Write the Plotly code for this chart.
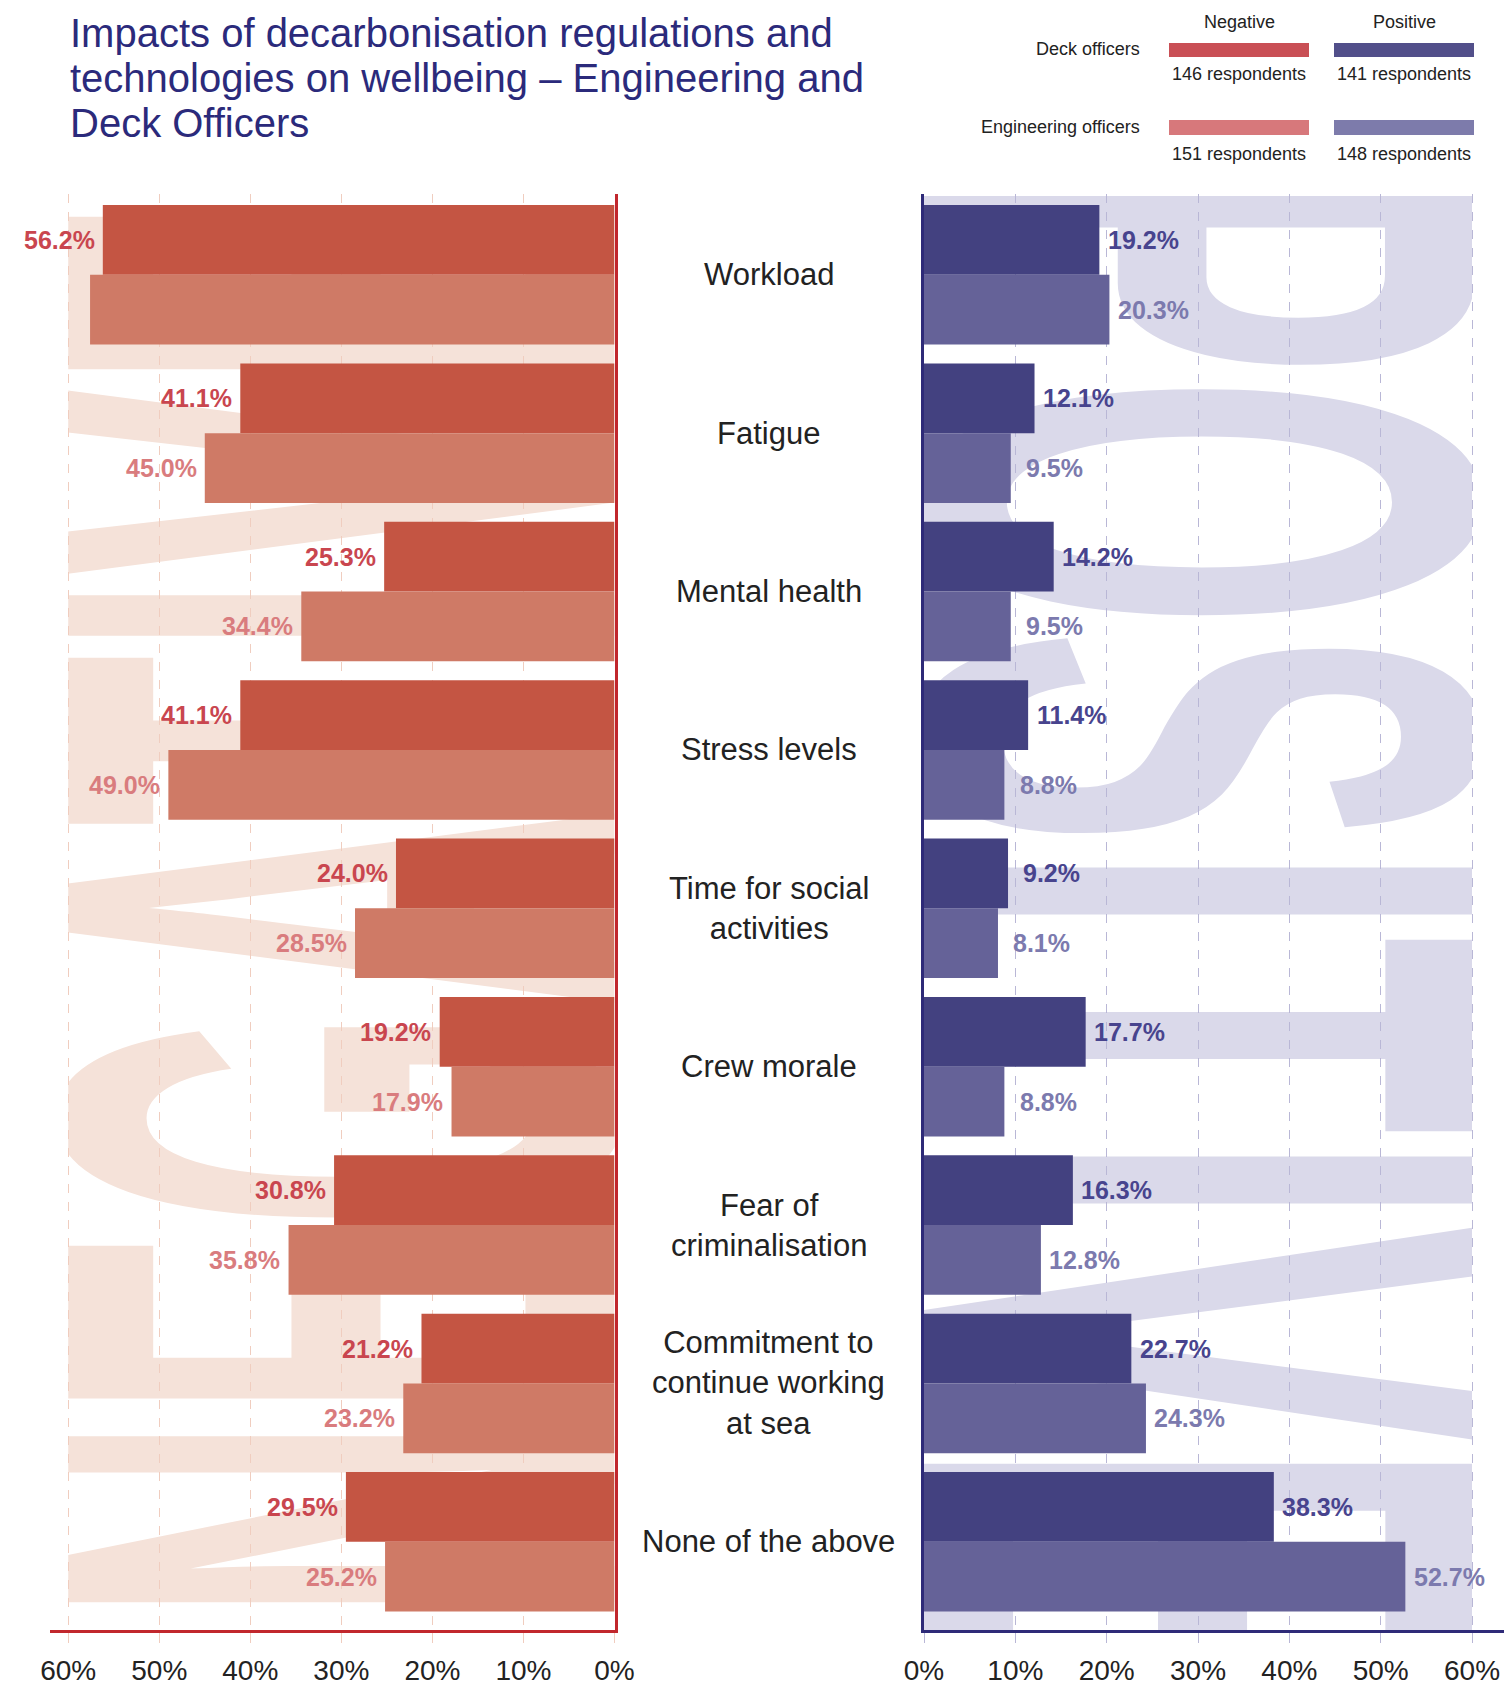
import base64
import plotly.graph_objects as go

# ---------------- data ----------------
categories = ["Workload", "Fatigue", "Mental health", "Stress levels",
              "Time for social activities", "Crew morale", "Fear of criminalisation",
              "Commitment to continue working at sea", "None of the above"]
category_labels = ["Workload", "Fatigue", "Mental health", "Stress levels",
                   "Time for social<br>activities", "Crew morale", "Fear of<br>criminalisation",
                   "Commitment to<br>continue working<br>at sea", "None of the above"]
neg_deck = [56.2, 41.1, 25.3, 41.1, 24.0, 19.2, 30.8, 21.2, 29.5]
neg_eng = [57.6, 45.0, 34.4, 49.0, 28.5, 17.9, 35.8, 23.2, 25.2]
pos_deck = [19.2, 12.1, 14.2, 11.4, 9.2, 17.7, 16.3, 22.7, 38.3]
pos_eng = [20.3, 9.5, 9.5, 8.8, 8.1, 8.8, 12.8, 24.3, 52.7]
tick_vals = [0, 10, 20, 30, 40, 50, 60]
tick_text = ["0%", "10%", "20%", "30%", "40%", "50%", "60%"]
respondents = {"neg_deck": 146, "pos_deck": 141, "neg_eng": 151, "pos_eng": 148}
title_lines = ["Impacts of decarbonisation regulations and",
               "technologies on wellbeing \u2013 Engineering and",
               "Deck Officers"]

# ---------------- styling / geometry ----------------
W, H = 1504, 1685
FONT = "Liberation Sans, Arial, Helvetica, sans-serif"
LEFT_X0, LEFT_X1 = 50.0, 614.5
RIGHT_X0, RIGHT_X1 = 924.0, 1504.0
PLOT_TOP, PLOT_BOTTOM = 194.0, 1630.0
LEFT_RANGE = [62.0, 0.0]
RIGHT_RANGE = [0.0, 63.5]
Y_RANGE = [8.557, -0.510]
BAR_W = 0.4405
LABEL_OFF = 4.8

C_NEG_DECK, C_NEG_ENG = "#c45543", "#cf7a66"
C_POS_DECK, C_POS_ENG = "#434180", "#656298"
C_NEG_DECK_T, C_NEG_ENG_T = "#c9464f", "#d97c7e"
C_POS_DECK_T, C_POS_ENG_T = "#48448e", "#7c7aae"
C_RED_AXIS, C_NAVY_AXIS = "#c1272d", "#2e2a78"
C_GRID_L, C_GRID_R = "#f0cdbf", "#b9b7d6"
C_WM_L, C_WM_R = "#f5e2d9", "#dad9ea"
C_TEXT = "#222222"
C_TITLE = "#2b2a7b"


def px_x(p):
    return p / W


def px_y(p):
    return 1 - p / H


def left_x_to_px(v):
    return LEFT_X0 + (LEFT_RANGE[0] - v) / (LEFT_RANGE[0] - LEFT_RANGE[1]) * (LEFT_X1 - LEFT_X0)


def right_x_to_px(v):
    return RIGHT_X0 + (v - RIGHT_RANGE[0]) / (RIGHT_RANGE[1] - RIGHT_RANGE[0]) * (RIGHT_X1 - RIGHT_X0)


ypos = list(range(len(categories)))

fig = go.Figure()
fig.add_trace(go.Bar(x=neg_deck, y=ypos, orientation="h", width=BAR_W, offset=-BAR_W,
                     marker=dict(color=C_NEG_DECK, line=dict(width=0)), xaxis="x", yaxis="y",
                     name="Negative - Deck officers", showlegend=False))
fig.add_trace(go.Bar(x=neg_eng, y=ypos, orientation="h", width=BAR_W, offset=0,
                     marker=dict(color=C_NEG_ENG, line=dict(width=0)), xaxis="x", yaxis="y",
                     name="Negative - Engineering officers", showlegend=False))
fig.add_trace(go.Bar(x=pos_deck, y=ypos, orientation="h", width=BAR_W, offset=-BAR_W,
                     marker=dict(color=C_POS_DECK, line=dict(width=0)), xaxis="x2", yaxis="y2",
                     name="Positive - Deck officers", showlegend=False))
fig.add_trace(go.Bar(x=pos_eng, y=ypos, orientation="h", width=BAR_W, offset=0,
                     marker=dict(color=C_POS_ENG, line=dict(width=0)), xaxis="x2", yaxis="y2",
                     name="Positive - Engineering officers", showlegend=False))

annotations = []
VAL_SIZE = 25
# value labels
for i in ypos:
    annotations.append(dict(x=neg_deck[i] + LABEL_OFF, y=i - BAR_W / 2, xref="x", yref="y",
                            text=f"{neg_deck[i]:.1f}%", showarrow=False, xanchor="center", yanchor="middle",
                            font=dict(family=FONT, size=VAL_SIZE, color=C_NEG_DECK_T, weight="bold")))
    annotations.append(dict(x=neg_eng[i] + LABEL_OFF, y=i + BAR_W / 2, xref="x", yref="y",
                            text=f"{neg_eng[i]:.1f}%", showarrow=False, xanchor="center", yanchor="middle",
                            font=dict(family=FONT, size=VAL_SIZE, color=C_NEG_ENG_T, weight="bold")))
    annotations.append(dict(x=pos_deck[i] + LABEL_OFF, y=i - BAR_W / 2, xref="x2", yref="y2",
                            text=f"{pos_deck[i]:.1f}%", showarrow=False, xanchor="center", yanchor="middle",
                            font=dict(family=FONT, size=VAL_SIZE, color=C_POS_DECK_T, weight="bold")))
    annotations.append(dict(x=pos_eng[i] + LABEL_OFF, y=i + BAR_W / 2, xref="x2", yref="y2",
                            text=f"{pos_eng[i]:.1f}%", showarrow=False, xanchor="center", yanchor="middle",
                            font=dict(family=FONT, size=VAL_SIZE, color=C_POS_ENG_T, weight="bold")))
# category labels
for i, lab in enumerate(category_labels):
    annotations.append(dict(x=px_x(769), y=i, xref="paper", yref="y", text=lab, showarrow=False,
                            xanchor="center", yanchor="middle", align="center",
                            font=dict(family=FONT, size=31, color=C_TEXT)))
# title
for k, line in enumerate(title_lines):
    annotations.append(dict(x=px_x(68), y=px_y(33 + 45 * k), xref="paper", yref="paper", text=line,
                            showarrow=False, xanchor="left", yanchor="middle",
                            font=dict(family=FONT, size=40, color=C_TITLE)))
# legend
LEG_NEG_X0, LEG_NEG_X1 = 1169, 1309
LEG_POS_X0, LEG_POS_X1 = 1334, 1474
leg_font = dict(family=FONT, size=18, color=C_TEXT)
annotations += [
    dict(x=px_x((LEG_NEG_X0 + LEG_NEG_X1) / 2), y=px_y(22), text="Negative"),
    dict(x=px_x((LEG_POS_X0 + LEG_POS_X1) / 2), y=px_y(22), text="Positive"),
    dict(x=px_x(1142), y=px_y(49), text="Deck officers", xanchor="right"),
    dict(x=px_x(1142), y=px_y(127), text="Engineering officers", xanchor="right"),
    dict(x=px_x((LEG_NEG_X0 + LEG_NEG_X1) / 2), y=px_y(74), text=f"{respondents['neg_deck']} respondents"),
    dict(x=px_x((LEG_POS_X0 + LEG_POS_X1) / 2), y=px_y(74), text=f"{respondents['pos_deck']} respondents"),
    dict(x=px_x((LEG_NEG_X0 + LEG_NEG_X1) / 2), y=px_y(154), text=f"{respondents['neg_eng']} respondents"),
    dict(x=px_x((LEG_POS_X0 + LEG_POS_X1) / 2), y=px_y(154), text=f"{respondents['pos_eng']} respondents"),
]
for a in annotations:
    if "xref" not in a:
        a.update(xref="paper", yref="paper", showarrow=False, yanchor="middle", font=leg_font)
        a.setdefault("xanchor", "center")

shapes = []
for (x0, x1, y0, y1, col) in [
    (LEG_NEG_X0, LEG_NEG_X1, 43, 57, "#c94f55"),
    (LEG_POS_X0, LEG_POS_X1, 43, 57, "#524f8a"),
    (LEG_NEG_X0, LEG_NEG_X1, 120, 135, "#d7787b"),
    (LEG_POS_X0, LEG_POS_X1, 120, 135, "#7d7bab"),
]:
    shapes.append(dict(type="rect", xref="paper", yref="paper", x0=px_x(x0), x1=px_x(x1),
                       y0=px_y(y1), y1=px_y(y0), fillcolor=col, line=dict(width=0)))


# watermark words
def wm_svg(w, h, text, tx, ty, angle, length, color):
    svg = (f'<svg xmlns="http://www.w3.org/2000/svg" width="{w:.1f}" height="{h:.1f}" '
           f'viewBox="0 0 {w:.1f} {h:.1f}" preserveAspectRatio="none">'
           f'<text transform="translate({tx:.1f},{ty:.1f}) rotate({angle})" x="0" y="0" '
           f'font-family="Liberation Sans, Arial, sans-serif" font-weight="bold" font-size="800" '
           f'fill="{color}" textLength="{length}" lengthAdjust="spacingAndGlyphs">{text}</text></svg>')
    return "data:image/svg+xml;base64," + base64.b64encode(svg.encode()).decode()


WM_TOP = 196.0
lx0, lx1 = left_x_to_px(60), left_x_to_px(0)
rx0, rx1 = right_x_to_px(0), right_x_to_px(60)
wm_h = PLOT_BOTTOM - WM_TOP
images = [
    dict(source=wm_svg(lx1 - lx0, wm_h, "NEGATIVE", lx1 - lx0, 1621 - WM_TOP, -90, 1421, C_WM_L),
         xref="paper", yref="paper", x=px_x(lx0), y=px_y(WM_TOP), sizex=(lx1 - lx0) / W, sizey=wm_h / H,
         xanchor="left", yanchor="top", sizing="stretch", layer="below"),
    dict(source=wm_svg(rx1 - rx0, wm_h, "POSITIVE", 0, 159 - WM_TOP, 90, 1500, C_WM_R),
         xref="paper", yref="paper", x=px_x(rx0), y=px_y(WM_TOP), sizex=(rx1 - rx0) / W, sizey=wm_h / H,
         xanchor="left", yanchor="top", sizing="stretch", layer="below"),
]

common_x = dict(tickvals=tick_vals, ticktext=tick_text, showgrid=True, griddash="dash", gridwidth=1,
                showline=True, linewidth=3, ticks="outside", ticklen=10, tickwidth=1,
                tickfont=dict(family=FONT, size=28, color=C_TEXT), zeroline=False, fixedrange=True,
                ticklabelstandoff=3, automargin=False)
common_y = dict(range=Y_RANGE, domain=[px_y(PLOT_BOTTOM), px_y(PLOT_TOP)], showticklabels=False,
                showgrid=False, zeroline=False, showline=True, linewidth=3, ticks="", fixedrange=True,
                automargin=False)

fig.update_layout(
    width=W, height=H, margin=dict(l=0, r=0, t=0, b=0, pad=0), autosize=False,
    paper_bgcolor="white", plot_bgcolor="rgba(0,0,0,0)",
    barmode="overlay", showlegend=False,
    font=dict(family=FONT, color=C_TEXT),
    xaxis=dict(domain=[px_x(LEFT_X0), px_x(LEFT_X1)], range=LEFT_RANGE, anchor="y",
               gridcolor=C_GRID_L, linecolor=C_RED_AXIS, tickcolor=C_GRID_L, **common_x),
    yaxis=dict(anchor="x", side="right", linecolor=C_RED_AXIS, **common_y),
    xaxis2=dict(domain=[px_x(RIGHT_X0), px_x(RIGHT_X1)], range=RIGHT_RANGE, anchor="y2",
                gridcolor=C_GRID_R, linecolor=C_NAVY_AXIS, tickcolor=C_GRID_R, **common_x),
    yaxis2=dict(anchor="x2", side="left", linecolor=C_NAVY_AXIS, **common_y),
    annotations=annotations, shapes=shapes, images=images,
)

fig.write_html("out.html", config={"displayModeBar": False},
               post_script="document.body.style.margin='0px';document.body.style.overflow='hidden';")
